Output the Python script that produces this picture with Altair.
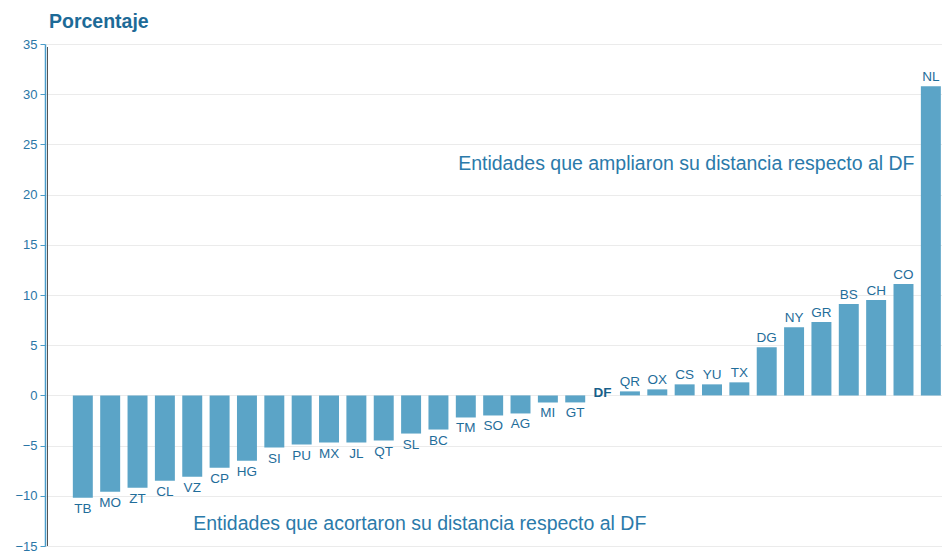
import altair as alt
import pandas as pd

states = ["TB", "MO", "ZT", "CL", "VZ", "CP", "HG", "SI", "PU", "MX", "JL", "QT", "SL",
          "BC", "TM", "SO", "AG", "MI", "GT", "DF", "QR", "OX", "CS", "YU", "TX", "DG",
          "NY", "GR", "BS", "CH", "CO", "NL"]
values = [-10.2, -9.6, -9.2, -8.5, -8.1, -7.2, -6.5, -5.2, -4.9, -4.7, -4.7, -4.5, -3.8,
          -3.4, -2.2, -2.0, -1.8, -0.7, -0.7, 0.0, 0.4, 0.6, 1.1, 1.1, 1.3, 4.8,
          6.8, 7.3, 9.1, 9.5, 11.1, 30.8]
y_ticks = [-15, -10, -5, 0, 5, 10, 15, 20, 25, 30, 35]

ann_text = ["Entidades que ampliaron su distancia respecto al DF",
            "Entidades que acortaron su distancia respecto al DF"]
ann_state = ["CO", "VZ"]
ann_value = [23.0, -12.8]

df = pd.DataFrame({"state": states, "value": values})
df["kind"] = ["ref" if s == "DF" else ("pos" if v > 0 else "neg") for s, v in zip(states, values)]
ann = pd.DataFrame({"text": ann_text, "state": ann_state, "value": ann_value})

FONT = "Liberation Sans"
BAR = "#5ba4c7"
LAB = "#1f6d9a"

xscale = alt.Scale(domain=states, paddingInner=0.27, paddingOuter=0.53, align=0.96)
xs = alt.X("state:N", sort=states, axis=None, scale=xscale)
ys = alt.Y("value:Q", scale=alt.Scale(domain=[-15, 35], nice=False),
           axis=alt.Axis(values=y_ticks, title=None, labelFontSize=13, labelColor="#2a76a6",
                         labelFont=FONT, tickColor="#4a9cc9", domainColor="#4a9cc9",
                         tickSize=5, labelPadding=3, gridColor="#ebebeb", domainWidth=1.5))

base = alt.Chart(df)

bars = base.transform_filter("datum.kind != 'ref'").mark_bar(color=BAR).encode(
    x=xs, y=ys, y2=alt.datum(0))

pos = base.transform_filter("datum.kind == 'pos'").mark_text(
    baseline="bottom", dy=-2, fontSize=13.5, font=FONT, color=LAB).encode(
    x=xs, y="value:Q", text="state:N")
neg = base.transform_filter("datum.kind == 'neg'").mark_text(
    baseline="top", dy=4, fontSize=13.5, font=FONT, color=LAB).encode(
    x=xs, y="value:Q", text="state:N")
ref = base.transform_filter("datum.kind == 'ref'").mark_text(
    baseline="middle", dy=-2, fontSize=13.5, font=FONT, fontWeight="bold", color="#175f8a").encode(
    x=xs, y="value:Q", text="state:N")

ann_chart = alt.Chart(ann)
ann_hi = ann_chart.transform_filter("datum.value > 0").mark_text(
    align="right", baseline="middle", dx=11, fontSize=19.5, font=FONT, color="#2b7aaa").encode(
    x=alt.X("state:N", sort=states, scale=xscale), y="value:Q", text="text:N")
ann_lo = ann_chart.transform_filter("datum.value < 0").mark_text(
    align="left", baseline="middle", dx=1, fontSize=19.5, font=FONT, color="#2b7aaa").encode(
    x=alt.X("state:N", sort=states, scale=xscale), y="value:Q", text="text:N")

axis_line = alt.Chart(df).mark_rule(color="#555555", strokeWidth=1).encode(
    x=alt.value(2.5), y=alt.value(3), y2=alt.value(502))

chart = alt.layer(bars, pos, neg, ref, ann_hi, ann_lo, axis_line).properties(
    width=897, height=502,
    padding={"left": 37, "top": 36, "right": 0, "bottom": 6},
    autosize=alt.AutoSizeParams(type="none"),
    title=alt.TitleParams("Porcentaje", anchor="start", frame="group", fontSize=19.5,
                          fontWeight="bold", color="#1d6a97", font=FONT, dx=4, offset=6),
).configure_view(stroke=None)

chart.save("out.html", embed_options={"renderer": "svg", "actions": False})
